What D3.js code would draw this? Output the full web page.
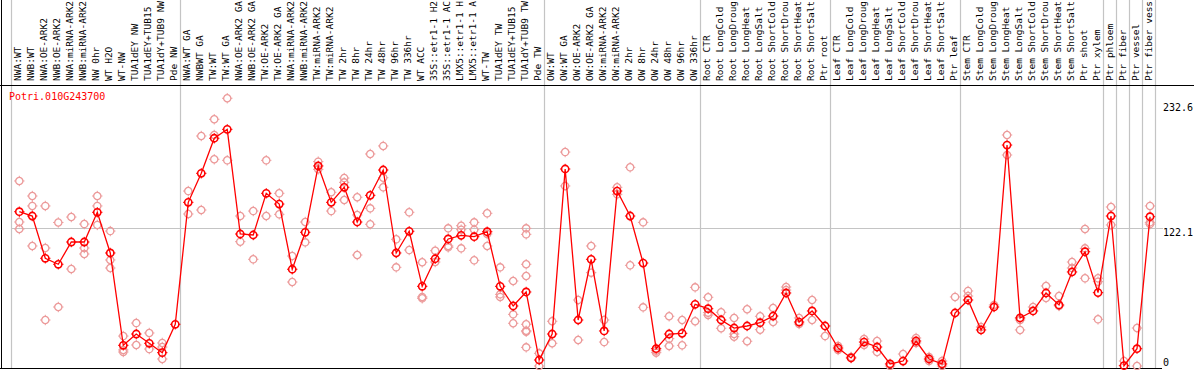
<!DOCTYPE html>
<html>
<head>
<meta charset="utf-8">
<script src="https://cdn.jsdelivr.net/npm/d3@7"></script>
<style>
  body { margin: 0; background: #fff; }
  svg { display: block; }
  text { font-family: "DejaVu Sans Mono", monospace; font-size: 10px; }
  text.cat { font-size: 9.5px; }
</style>
</head>
<body>
<svg width="1194" height="370"></svg>
<script>
(function() {
	"use strict"

	var geneId = "Potri.010G243700";

	var categories = [
		"NWA:WT", "NWB:WT", "NWA:OE-ARK2", "NWB:OE-ARK2", "NWA:miRNA-ARK2", "NWB:miRNA-ARK2",
		"NW 0hr", "WT H2O", "WT-NW", "TUA1dEY NW", "TUA1dEY+TUB15 ", "TUA1dY+TUB9 NW", "Pde NW",
		"NWA:WT GA", "NWBWT GA", "TW:WT", "TW:WT GA", "NWA:OE-ARK2 GA", "NWB:OE-ARK2 GA",
		"TW:OE-ARK2", "TW:OE-ARK2 GA", "NWA:miRNA-ARK2", "NWB:miRNA-ARK2", "TW:miRNA-ARK2",
		"TW:miRNA-ARK2", "TW 2hr", "TW 8hr", "TW 24hr", "TW 48hr", "TW 96hr", "TW 336hr",
		"WT ACC", "35S::etr1-1 H2", "35S::etr1-1 AC", "LMX5::etr1-1 H", "LMX5::etr1-1 A",
		"WT-TW", "TUA1dEY TW", "TUA1dEY+TUB15", "TUA1dY+TUB9 TW", "Pde TW",
		"OW:WT", "OW:WT GA", "OW:OE-ARK2", "OW:OE-ARK2 GA", "OW:miRNA-ARK2", "OW:miRNA-ARK2",
		"OW 2hr", "OW 8hr", "OW 24hr", "OW 48hr", "OW 96hr", "OW 336hr",
		"Root CTR", "Root LongCold", "Root LongDroug", "Root LongHeat", "Root LongSalt",
		"Root ShortCold", "Root ShortDrou", "Root ShortHeat", "Root ShortSalt", "Ptr root",
		"Leaf CTR", "Leaf LongCold", "Leaf LongDroug", "Leaf LongHeat", "Leaf LongSalt",
		"Leaf ShortCold", "Leaf ShortDrou", "Leaf ShortHeat", "Leaf ShortSalt", "Ptr leaf",
		"Stem CTR", "Stem LongCold", "Stem LongDroug", "Stem LongHeat", "Stem LongSalt",
		"Stem ShortCold", "Stem ShortDrou", "Stem ShortHeat", "Stem ShortSalt",
		"Ptr shoot", "Ptr xylem", "Ptr phloem", "Ptr fiber", "Ptr vessel", "Ptr fiber vess"
	];

	// mean expression per sample
	var means = [
		136.5, 132.7, 95.3, 90.0, 109.7, 109.7, 136.0, 100.0, 18.3, 28.3, 20.1, 11.8, 36.9,
		144.8, 170.5, 201.5, 209.4, 116.8, 115.9, 152.8, 143.3, 85.6, 118.3, 177.0, 144.8,
		158.1, 127.4, 151.0, 173.4, 100.0, 119.2, 70.5, 94.9, 112.4, 115.6, 114.4, 118.8,
		70.5, 53.1, 65.5, 5.3,
		28.3, 174.3, 40.7, 94.4, 31.0, 154.8, 132.7, 91.1, 15.3, 28.3, 28.9, 54.6,
		50.7, 40.7, 33.6, 35.4, 38.3, 44.2, 64.6, 38.9, 48.7, 35.4,
		15.9, 7.1, 21.2, 16.8, 1.8, 4.4, 22.1, 6.2, 1.8, 46.9,
		58.4, 31.9, 52.2, 195.5, 42.5, 48.7, 64.6, 54.0, 83.2,
		101.1, 64.9, 132.7, 0.3, 15.3, 132.1
	];

	// individual replicates per sample
	var replicates = [
		[163.7, 127.4, 121.2], [150.4, 141.6, 106.2], [141.6, 104.4, 40.7], [127.0, 52.2],
		[131.8, 85.8], [125.6, 104.4, 99.1], [150.4, 141.6, 124.8], [119.4, 93.8, 86.7],
		[26.5, 14.2, 12.4], [38.0, 18.6], [29.2, 15.0], [20.4, 16.8, 6.2], [],
		[154.8, 134.5], [203.5, 138.0], [218.3, 204.4, 182.9], [236.9, 182.0], [132.7, 110.0],
		[137.1, 94.4], [182.0, 132.7], [152.8, 134.2], [97.3, 74.3], [127.4, 109.4],
		[180.8, 174.0], [153.7, 137.1], [166.3, 162.5, 146.9], [149.3, 133.6, 98.2],
		[187.6, 139.5, 125.4], [194.7, 166.6, 158.1], [112.1, 87.3], [136.0, 102.6],
		[91.8, 61.1, 59.9], [102.0, 92.0], [121.8, 106.2, 105.0], [124.1, 120.6, 104.1],
		[127.1, 120.6, 93.5], [135.1, 116.8, 106.2], [87.3, 63.4, 61.1], [75.2, 45.7, 37.8],
		[121.8, 116.5, 90.0, 79.6, 36.9, 31.2, 30.3, 16.5], [11.2, 0],
		[39.6, 20.1], [189.3, 159.3], [58.4, 23.0], [106.2, 82.6], [40.7, 21.2], [158.1, 151.9],
		[175.8, 89.1], [127.1, 51.9], [13.5, 11.8], [44.0, 24.2, 17.7], [40.7, 18.3], [69.6, 39.6],
		[60.8, 47.2, 45.1], [47.5, 33.4], [42.5, 28.3, 25.9], [50.2, 21.9], [44.0, 32.1],
		[51.3, 38.9], [69.9, 67.2], [42.5, 37.2], [58.4, 40.7], [26.5],
		[17.7, 14.2], [8.0], [23.9, 18.6], [22.1, 12.4], [0], [10.6], [24.8, 20.4], [8.0, 4.4],
		[4.4, 0], [61.1],
		[66.4, 61.9], [34.5], [54.0], [204.4, 186.7], [40.7, 31.9], [52.2], [70.8, 60.2],
		[61.9, 53.1], [92.0, 86.7],
		[121.2, 104.1, 77.6], [77.6, 74.6, 41.3], [140.7, 124.8], [4.4], [33.6, 0],
		[141.6, 127.1, 125.6]
	];

	// group boundaries: a separator follows each of these samples
	var groupEnds = [12, 40, 52, 62, 72, 83, 84, 85, 86, 87];

	var axisMax = 232.6,
		axisMid = 122.1,
		axisLabels = [axisMax, axisMid, 0];

	var width = 1194,
		headerBottom = 85,
		plotBottom = 368,
		gridColor = "#c4c4c4",
		lineColor = "#ff0000",
		repColor = "#ec9a9a";

	var svg = d3.select("svg");

	var x = d3.scalePoint()
		.domain(d3.range(categories.length))
		.range([19.3, 1150]);
	var step = x.step();

	var y = d3.scaleLinear()
		.domain([0, axisMid])
		.range([366, 228]);

	// vertical separators
	var sepX = [x(0) - step / 2 - 2].concat(groupEnds.map(function(i) {
		return x(i) + step / 2 - 1.5;
	}));
	svg.selectAll("line.sep")
		.data(sepX)
		.enter()
		.append("line")
			.attr("class", "sep")
			.attr("x1", function(d) { return Math.round(d) + 0.5; })
			.attr("x2", function(d) { return Math.round(d) + 0.5; })
			.attr("y1", 0)
			.attr("y2", plotBottom)
			.style("stroke", gridColor)
			.style("stroke-width", 1.2);

	// middle reference line
	svg.append("line")
		.attr("x1", 11)
		.attr("x2", 1163)
		.attr("y1", Math.round(y(axisMid)) + 0.5)
		.attr("y2", Math.round(y(axisMid)) + 0.5)
		.style("stroke", gridColor)
		.style("stroke-width", 1.2);

	// frame
	svg.append("line")
		.attr("x1", 0).attr("x2", width)
		.attr("y1", headerBottom + 0.5).attr("y2", headerBottom + 0.5)
		.style("stroke", "#000");
	svg.append("line")
		.attr("x1", 0).attr("x2", 1162)
		.attr("y1", plotBottom + 0.5).attr("y2", plotBottom + 0.5)
		.style("stroke", "#000");
	svg.append("line")
		.attr("x1", 1.5).attr("x2", 1.5)
		.attr("y1", 0).attr("y2", plotBottom)
		.style("stroke", "#000");

	// sample labels
	svg.selectAll("text.cat")
		.data(categories)
		.enter()
		.append("text")
			.attr("class", "cat")
			.attr("transform", function(d, i) {
				return "translate(" + (x(i) + 1.8) + "," + 81 + ") rotate(-90)";
			})
			.style("fill", "#000")
			.text(function(d) { return d; });

	// gene id
	svg.append("text")
		.attr("x", 9)
		.attr("y", 100)
		.style("fill", lineColor)
		.text(geneId);

	// right axis labels
	svg.selectAll("text.ylab")
		.data(axisLabels)
		.enter()
		.append("text")
			.attr("class", "ylab")
			.attr("x", 1163)
			.attr("y", function(d) { return d === 0 ? y(d) : y(d) + 8; })
			.style("fill", "#000")
			.text(function(d) { return d; });

	function marker(sel, color, sw) {
		sel.append("circle")
			.attr("r", 3.6)
			.style("fill", "none")
			.style("stroke", color)
			.style("stroke-width", sw);
		sel.append("path")
			.attr("d", "M0,-3.6V-5.2M0,3.6V5.2M-3.6,0H-5.2M3.6,0H5.2")
			.style("stroke", color)
			.style("stroke-width", 1);
	}

	// replicates
	var reps = [];
	replicates.forEach(function(r, i) {
		r.forEach(function(v) { reps.push({ i: i, v: v }); });
	});
	svg.selectAll("g.rep")
		.data(reps)
		.enter()
		.append("g")
			.attr("class", "rep")
			.attr("transform", function(d) { return "translate(" + x(d.i) + "," + y(d.v) + ")"; })
			.call(marker, repColor, 1.3);

	// mean line
	svg.append("path")
		.datum(means)
		.attr("d", d3.line()
			.x(function(d, i) { return x(i); })
			.y(function(d) { return y(d); }))
		.style("fill", "none")
		.style("stroke", lineColor)
		.style("stroke-width", 1.3);

	svg.selectAll("g.mean")
		.data(means)
		.enter()
		.append("g")
			.attr("class", "mean")
			.attr("transform", function(d, i) { return "translate(" + x(i) + "," + y(d) + ")"; })
			.call(marker, lineColor, 1.6);
})();
</script>
</body>
</html>
